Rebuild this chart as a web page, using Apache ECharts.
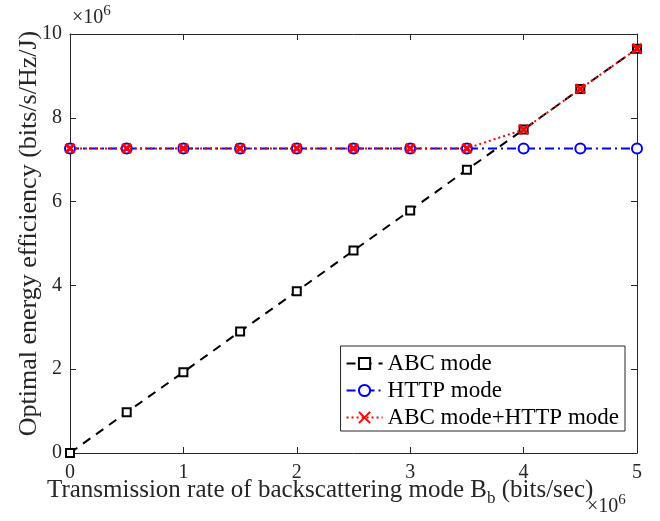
<!DOCTYPE html>
<html><head><meta charset="utf-8">
<script src="https://cdn.jsdelivr.net/npm/echarts@6/dist/echarts.min.js"></script>
<style>html,body{margin:0;padding:0;background:#fff}#c{width:660px;height:521px}</style>
</head><body><div id="c"></div>
<script>
const xValues = [0, 0.5, 1, 1.5, 2, 2.5, 3, 3.5, 4, 4.5, 5];
const abcMode = [0, 0.97, 1.93, 2.9, 3.86, 4.83, 5.79, 6.76, 7.72, 8.69, 9.65];
const httpMode = [7.27, 7.27, 7.27, 7.27, 7.27, 7.27, 7.27, 7.27, 7.27, 7.27, 7.27];
const combinedMode = [7.27, 7.27, 7.27, 7.27, 7.27, 7.27, 7.27, 7.27, 7.72, 8.69, 9.65];
const seriesNames = ['ABC mode', 'HTTP mode', 'ABC mode+HTTP mode'];

const font = 'Liberation Serif';
const txt = '#262626';
const chart = echarts.init(document.getElementById('c'));
const pair = arr => xValues.map((x, i) => [x, arr[i]]);
const axisCommon = {
  min: 0, interval: 1,
  axisLine: {show: true, onZero: false, lineStyle: {color: txt, width: 1}},
  axisTick: {show: true, inside: true, length: 6, lineStyle: {color: txt}},
  splitLine: {show: false},
};
const expText = (left, top) => ({type: 'text', left: left, top: top, style: {text: '×10{s|6}', fontFamily: font, fontSize: 20, fill: txt,
  rich: {s: {fontFamily: font, fontSize: 15, fill: txt, verticalAlign: 'top', padding: [0, 0, 12, 0]}}}});
chart.setOption({
  animation: false,
  grid: {left: 70, right: 23, top: 34, bottom: 68, containLabel: false, outerBoundsMode: 'none'},
  xAxis: [
    Object.assign({}, axisCommon, {type: 'value', max: 5, position: 'bottom',
      axisLabel: {fontFamily: font, fontSize: 20, color: txt, margin: 10}}),
    Object.assign({}, axisCommon, {type: 'value', max: 5, position: 'top', axisLabel: {show: false}})
  ],
  yAxis: [
    Object.assign({}, axisCommon, {type: 'value', max: 10, interval: 2, position: 'left',
      axisLabel: {fontFamily: font, fontSize: 20, color: txt, margin: 8},
      name: 'Optimal energy efficiency (bits/s/Hz/J)', nameLocation: 'middle', nameGap: 28, nameMoveOverlap: false,
      nameTextStyle: {fontFamily: font, fontSize: 26, color: txt, padding: [0, 0, 0, 20]}}),
    Object.assign({}, axisCommon, {type: 'value', max: 10, interval: 2, position: 'right', axisLabel: {show: false}})
  ],
  legend: {
    right: 35, bottom: 90, orient: 'vertical',
    backgroundColor: '#fff', borderColor: txt, borderWidth: 1, borderRadius: 0,
    padding: [6, 6, 2, 5], itemGap: 4, itemWidth: 36, itemHeight: 14,
    textStyle: {fontFamily: font, fontSize: 23, color: '#000'},
    data: seriesNames
  },
  graphic: [
    expText(72, 4),
    expText(587, 493),
    {type: 'text', left: 47, top: 478, style: {text: 'Transmission rate of backscattering mode B{sub|b} (bits/sec)',
      fontFamily: font, fontSize: 25, fill: txt,
      rich: {sub: {fontFamily: font, fontSize: 17, fill: txt, verticalAlign: 'bottom', padding: [16, 0, 0, 0]}}}}
  ],
  series: [
    {name: seriesNames[0], type: 'line', data: pair(abcMode), symbol: 'rect', symbolSize: 8,
      lineStyle: {color: '#000', width: 2, type: [9, 7]},
      itemStyle: {color: '#fff', borderColor: '#000', borderWidth: 2}, z: 2},
    {name: seriesNames[1], type: 'line', data: pair(httpMode), symbol: 'circle', symbolSize: 10,
      lineStyle: {color: '#0000ff', width: 2, type: [9, 4, 2, 4]},
      itemStyle: {color: '#fff', borderColor: '#0000ff', borderWidth: 2}, z: 3},
    {name: seriesNames[2], type: 'line', data: pair(combinedMode), symbol: 'path://M0 0L10 10M10 0L0 10', symbolSize: 9,
      lineStyle: {color: '#ff0000', width: 2, type: [2, 3]},
      itemStyle: {color: '#ff0000', borderColor: '#ff0000', borderWidth: 3}, z: 4}
  ]
});
</script></body></html>
